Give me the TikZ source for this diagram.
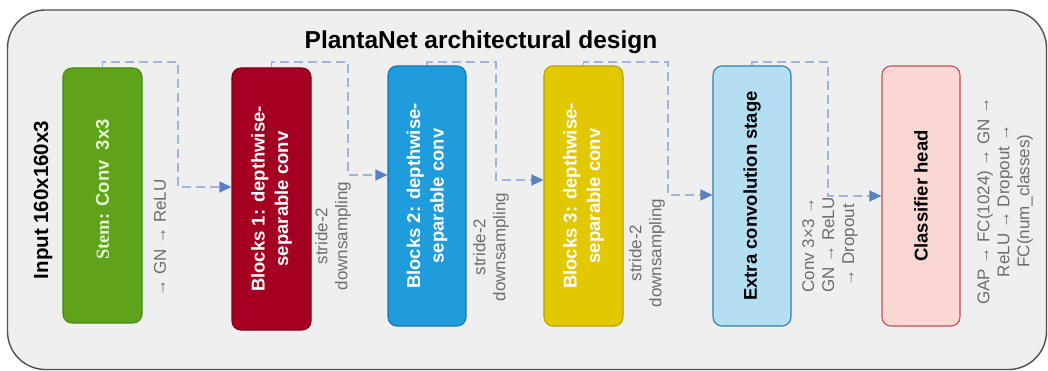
\documentclass[tikz,border=0pt]{standalone}
\usepackage{fontspec}
\setmainfont{Liberation Sans}
\newfontfamily\stemfont{Liberation Serif}
\usetikzlibrary{arrows.meta}

\definecolor{panelfill}{HTML}{EFEFEF}
\definecolor{panelline}{HTML}{505050}
\definecolor{stemfill}{HTML}{5FA31A}
\definecolor{stemline}{HTML}{4B8A12}
\definecolor{stemtext}{HTML}{E6F6D2}
\definecolor{blkAfill}{HTML}{A50021}
\definecolor{blkAline}{HTML}{7E0019}
\definecolor{blkBfill}{HTML}{1E9CDC}
\definecolor{blkBline}{HTML}{1777AE}
\definecolor{blkCfill}{HTML}{E2C800}
\definecolor{blkCline}{HTML}{B8A200}
\definecolor{extrafill}{HTML}{B4DEF1}
\definecolor{extraline}{HTML}{2E7FAF}
\definecolor{headfill}{HTML}{FAD7D3}
\definecolor{headline}{HTML}{C0504D}
\definecolor{notegray}{HTML}{6E6E6E}
\definecolor{linkblue}{HTML}{9FB5DD}
\definecolor{tipblue}{HTML}{5B80C2}

\begin{document}
\begin{tikzpicture}[x=1pt,y=-1pt,
  stage/.style={draw, rounded corners=9pt, line width=1.1pt, rotate=90,
    minimum width=260pt, minimum height=78pt, inner sep=0pt, align=center,
    font=\fontsize{18.5}{23.5}\selectfont\bfseries},
  note/.style={rotate=90, inner sep=0pt, align=center, text=notegray,
    font=\fontsize{17}{20}\selectfont},
  conn/.style={draw=linkblue, line width=1.4pt, dash pattern=on 9pt off 5pt,
    -{Triangle[length=12pt,width=11pt,color=tipblue,fill=tipblue]}},
]
% canvas and panel
\fill[white] (0,0) rectangle (1048,371);
\useasboundingbox (0,0) rectangle (1048,371);
\draw[line width=1.4pt, draw=panelline, fill=panelfill, rounded corners=38pt]
  (7.5,10) rectangle (1046.5,369.5);

% title and input
\node[font=\fontsize{24.5}{28}\selectfont\bfseries] (title) at (481,42)
  {PlantaNet architectural design};
\node[rotate=90, font=\fontsize{20.5}{24}\selectfont\bfseries] (inp) at (43,200)
  {Input 160x160x3};

% stages
\node[stage, fill=stemfill, draw=stemline, text=stemtext,
  minimum width=255pt, minimum height=79pt] (stem) at (102.5,195.5)
  {\hspace*{12pt}{\stemfont\bfseries Stem:} Conv\ \ 3x3};
\node[stage, fill=blkAfill, draw=blkAline, text=white,
  minimum width=262pt, minimum height=79pt] (b1) at (271.5,199)
  {Blocks 1: depthwise-\\separable conv};
\node[stage, fill=blkBfill, draw=blkBline, text=white] (b2) at (427,196)
  {Blocks 2: depthwise-\\separable conv};
\node[stage, fill=blkCfill, draw=blkCline, text=white,
  minimum height=79pt] (b3) at (583.5,196)
  {Blocks 3: depthwise-\\separable conv};
\node[stage, fill=extrafill, draw=extraline, text=black] (extra) at (752,196)
  {Extra convolution stage};
\node[stage, fill=headfill, draw=headline, text=black] (head) at (921,196)
  {Classifier head};

% side notes
\node[note] (n0) at (160,238) {→ GN → ReLU};
\node[note] (n1) at (333,236) {stride-2\\downsampling};
\node[note] (n2) at (491,247) {stride-2\\downsampling};
\node[note] (n3) at (647,253) {stride-2\\downsampling};
\node[note] (n4) at (830,245) {Conv 3×3 →\\GN → ReLU\\→ Dropout};
\node[note] (n5) at (1005,201) {GAP → FC(1024) → GN →\\ReLU → Dropout →\\FC(num\_classes)};

% bend points of the connectors
\coordinate (k1) at (178,62);  \coordinate (j1) at (178,187);
\coordinate (k2) at (348,62);  \coordinate (j2) at (348,175);
\coordinate (k3) at (496,62);  \coordinate (j3) at (496,180);
\coordinate (k4) at (668,62);  \coordinate (j4) at (668,195);
\coordinate (k5) at (828,62);  \coordinate (j5) at (828,196);

% connectors
\draw[conn] (stem.east) |- (k1) -- (j1) -- (j1 -| b1.north);
\draw[conn] (b1.east) |- (k2) -- (j2) -- (j2 -| b2.north);
\draw[conn] (b2.east) |- (k3) -- (j3) -- (j3 -| b3.north);
\draw[conn] (b3.east) |- (k4) -- (j4) -- (j4 -| extra.north);
\draw[conn] (extra.east) |- (k5) -- (j5) -- (j5 -| head.north);
\end{tikzpicture}
\end{document}
